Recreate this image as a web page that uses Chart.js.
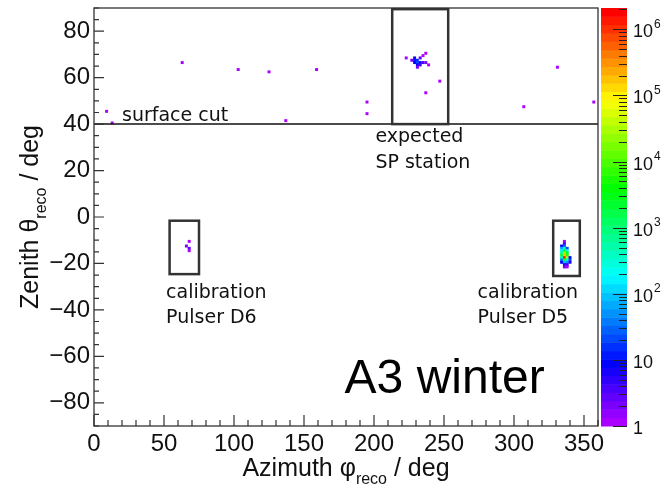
<!DOCTYPE html>
<html>
<head>
<meta charset="utf-8">
<script src="https://cdn.jsdelivr.net/npm/chart.js@4/dist/chart.umd.min.js"></script>
<style>
  html, body { margin: 0; padding: 0; background: #fff; }
  #wrap { position: relative; width: 663px; height: 488px; }
</style>
</head>
<body>
<div id="wrap"><canvas id="c" width="663" height="488"></canvas></div>
<script>
// 2D histogram bins: azimuth (deg), zenith (deg), entries
const phi = [
  9, 13, 63, 103, 125, 137, 159, 195, 195, 223, 237, 235, 247, 237, 307, 331, 357,
  227, 229, 229, 231, 229, 231, 233, 231, 233, 235, 237, 239, 231, 233,
  68, 66, 68, 68,
  336, 336, 334, 336, 334, 336, 338, 334, 336, 338, 334, 336, 338, 334, 336, 338,
  336, 334, 338, 340, 334, 336, 338, 340, 334, 336, 338, 340, 336, 338, 338, 336
]
const theta = [
  45.5, 40.5, 66.5, 63.5, 62.5, 41.5, 63.5, 49.5, 44.5, 68.5, 70.5, 69.5, 58.5, 53.5, 47.5, 64.5, 49.5,
  67.5, 68.5, 67.5, 67.5, 66.5, 66.5, 66.5, 65.5, 65.5, 66.5, 66.5, 65.5, 64.5, 68.5,
  -10.5, -12.5, -13.5, -14.5,
  -10.5, -11.5, -12.5, -12.5, -13.5, -13.5, -13.5, -14.5, -14.5, -14.5, -15.5, -15.5, -15.5, -16.5, -16.5, -16.5,
  -17.5, -17.5, -17.5, -17.5, -18.5, -18.5, -18.5, -18.5, -19.5, -19.5, -19.5, -19.5, -20.5, -20.5, -21.5, -21.5
]
const counts = [
  1, 1, 1, 1, 1, 1, 1, 1, 1, 1, 1, 1, 1, 1, 1, 1, 1,
  2, 6, 12, 15, 8, 20, 10, 6, 4, 4, 2, 1, 2, 3,
  1, 2, 3, 1,
  1, 4, 8, 30, 60, 400, 20, 150, 3000, 300, 800, 30000, 2000, 1500, 200000, 8000,
  1500000, 500, 20000, 10, 40, 5000, 300, 20, 8, 100, 50, 6, 6, 4, 1, 2
]

const xTickLabels = [0, 50, 100, 150, 200, 250, 300, 350]
const yTickLabels = [-80, -60, -40, -20, 0, 20, 40, 60, 80]
const zMax = 2.1e6
const zMajor = [1, 10, 100, 1e3, 1e4, 1e5, 1e6]
const zTickLabels = [['1', ''], ['10', ''], ['10', '2'], ['10', '3'], ['10', '4'], ['10', '5'], ['10', '6']]

// boxes drawn on the plot: [phi0, phi1, theta0, theta1]
const boxes = [[213, 253, 40, 89.5], [54, 75, -24.6, -1.6], [328, 347, -25.4, -1.6]]
const surfaceCut = 40
const notes = [
  ['surface cut', 20, 41.5],
  ['expected', 201, 32.5],
  ['SP station', 201, 21],
  ['calibration', 51.5, -35],
  ['Pulser D6', 51.5, -45.5],
  ['calibration', 274, -35],
  ['Pulser D5', 274, -45.5]
]
const bigNote = ['A3 winter', 179, -76]

// ROOT "pretty" palette: violet -> red
const nColors = 50
function paletteColor(i) {
  const hue = 280 * (1 - i / (nColors - 1))
  return `hsl(${hue.toFixed(1)}, 100%, 50%)`
}
function colorFor(v) {
  let i = Math.floor(nColors * Math.log10(v) / Math.log10(zMax))
  i = Math.max(0, Math.min(nColors - 1, i))
  return paletteColor(i)
}

const sansFont = '"Liberation Sans", Arial, sans-serif'
const noteFont = '"DejaVu Sans", sans-serif'
const frameColor = '#333'

function drawSubTitle(ctx, parts, x, y, size) {
  // parts: [text, isSub]
  let total = 0
  for (const [t, sub] of parts) {
    ctx.font = `${sub ? Math.round(size * 0.62) : size}px ${sansFont}`
    total += ctx.measureText(t).width
  }
  let cx = x - total / 2
  for (const [t, sub] of parts) {
    ctx.font = `${sub ? Math.round(size * 0.62) : size}px ${sansFont}`
    ctx.fillText(t, cx, sub ? y + size * 0.32 : y)
    cx += ctx.measureText(t).width
  }
}

// no extra room for half tick labels at the ends
function fixSize(w, h) {
  return s => {
    if (w) s.width = w
    if (h) s.height = h
    s.paddingTop = 0
    s.paddingBottom = 0
    s.paddingLeft = 0
    s.paddingRight = 0
  }
}

const rootLook = {
  id: 'rootLook',
  afterDatasetsDraw(chart) {
    const ctx = chart.ctx
    const xs = chart.scales.x, ys = chart.scales.y, zs = chart.scales.z
    const a = chart.chartArea
    ctx.save()

    // surface cut line
    ctx.strokeStyle = '#111'
    ctx.lineWidth = 1.5
    ctx.beginPath()
    ctx.moveTo(a.left, ys.getPixelForValue(surfaceCut))
    ctx.lineTo(a.right, ys.getPixelForValue(surfaceCut))
    ctx.stroke()

    // boxes
    ctx.strokeStyle = '#333'
    ctx.lineWidth = 2.5
    for (const [x0, x1, y0, y1] of boxes) {
      const px0 = xs.getPixelForValue(x0), px1 = xs.getPixelForValue(x1)
      const py0 = ys.getPixelForValue(y0), py1 = ys.getPixelForValue(y1)
      ctx.strokeRect(px0, py1, px1 - px0, py0 - py1)
    }

    // frame + inward ticks
    ctx.strokeStyle = frameColor
    ctx.lineWidth = 1.3
    ctx.strokeRect(a.left, a.top, a.right - a.left, a.bottom - a.top)
    ctx.lineWidth = 1.2
    ctx.beginPath()
    for (const t of xs.ticks) {
      const px = xs.getPixelForValue(t.value)
      const len = t.value % 50 === 0 ? 11 : 6
      ctx.moveTo(px, a.bottom)
      ctx.lineTo(px, a.bottom - len)
    }
    for (const t of ys.ticks) {
      const py = ys.getPixelForValue(t.value)
      const len = t.value % 20 === 0 ? 10 : 5
      ctx.moveTo(a.left, py)
      ctx.lineTo(a.left + len, py)
    }
    ctx.stroke()

    // annotations
    ctx.fillStyle = '#111'
    ctx.textBaseline = 'alphabetic'
    ctx.textAlign = 'left'
    ctx.font = `19px ${noteFont}`
    for (const [t, x, y] of notes) {
      ctx.fillText(t, xs.getPixelForValue(x), ys.getPixelForValue(y))
    }
    ctx.fillStyle = '#000'
    ctx.font = `48px ${sansFont}`
    ctx.fillText(bigNote[0], xs.getPixelForValue(bigNote[1]), ys.getPixelForValue(bigNote[2]))

    // axis titles with subscripts
    ctx.fillStyle = '#111'
    drawSubTitle(ctx, [['Azimuth \u03c6', false], ['reco', true], [' / deg', false]], (a.left + a.right) / 2, 476, 25)
    ctx.translate(38, (a.top + a.bottom) / 2)
    ctx.rotate(-Math.PI / 2)
    drawSubTitle(ctx, [['Zenith \u03b8', false], ['reco', true], [' / deg', false]], 0, 0, 25)
    ctx.restore()

    // colour bar
    ctx.save()
    const bl = zs.left + 3, br = zs.left + 29
    const lmax = Math.log10(zMax)
    for (let i = 0; i < nColors; i++) {
      const y0 = zs.getPixelForValue(Math.pow(10, lmax * i / nColors))
      const y1 = zs.getPixelForValue(Math.pow(10, lmax * (i + 1) / nColors))
      ctx.fillStyle = paletteColor(i)
      ctx.fillRect(bl, y1, br - bl, y0 - y1 + 0.5)
    }
    ctx.strokeStyle = '#222'
    ctx.lineWidth = 1
    ctx.beginPath()
    for (const d of zMajor) {
      for (let m = 1; m <= 9; m++) {
        const v = m * d
        if (v > zMax) break
        const py = Math.round(zs.getPixelForValue(v)) + 0.5
        ctx.moveTo(br, py)
        ctx.lineTo(br - (m === 1 ? 14 : 8), py)
      }
    }
    ctx.stroke()
    ctx.fillStyle = '#111'
    ctx.textBaseline = 'middle'
    zMajor.forEach((v, i) => {
      const py = zs.getPixelForValue(v) + 3
      const [base, exp] = zTickLabels[i]
      ctx.font = `18px ${sansFont}`
      ctx.fillText(base, br + 6, py)
      if (exp) {
        const w = ctx.measureText(base).width
        ctx.font = `12px ${sansFont}`
        ctx.fillText(exp, br + 6 + w + 1, py - 8)
      }
    })
    ctx.restore()
  }
}

const ctx = document.getElementById('c').getContext('2d')
new Chart(ctx, {
  type: 'scatter',
  data: {
    datasets: [{
      data: phi.map((p, i) => ({ x: p, y: theta[i] })),
      pointStyle: 'rect',
      pointRadius: 2.1,
      borderWidth: 0,
      backgroundColor: c => colorFor(counts[c.dataIndex])
    }]
  },
  options: {
    responsive: false,
    animation: false,
    events: [],
    plugins: { legend: { display: false }, tooltip: { enabled: false } },
    layout: { padding: { top: 8, left: 0, right: 0, bottom: 0 } },
    scales: {
      x: {
        type: 'linear', position: 'bottom', min: 0, max: 360,
        grid: { display: false, drawTicks: false },
        border: { display: false },
        ticks: {
          stepSize: 10, autoSkip: false, maxRotation: 0, padding: 4,
          color: '#111', font: { family: sansFont, size: 24 },
          callback: v => xTickLabels.includes(v) ? String(v) : ''
        },
        afterFit: fixSize(0, 62)
      },
      y: {
        type: 'linear', position: 'left', min: -90, max: 90,
        grid: { display: false, drawTicks: false },
        border: { display: false },
        ticks: {
          stepSize: 5, autoSkip: false, padding: 4,
          color: '#111', font: { family: sansFont, size: 24 },
          callback: v => yTickLabels.includes(v) ? String(v).replace('-', '\u2212') : ''
        },
        afterFit: fixSize(94, 0)
      },
      z: {
        type: 'logarithmic', position: 'right', min: 1, max: zMax,
        grid: { display: false, drawTicks: false },
        border: { display: false },
        ticks: { display: false },
        afterFit: fixSize(65, 0)
      }
    }
  },
  plugins: [rootLook]
})
</script>
</body>
</html>
